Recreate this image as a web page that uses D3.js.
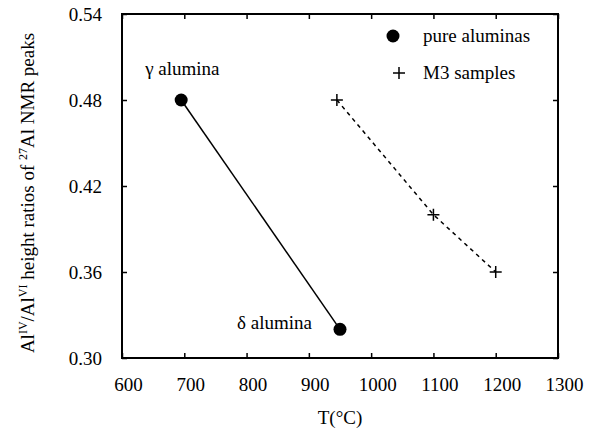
<!DOCTYPE html>
<html>
<head>
<meta charset="utf-8">
<script src="https://d3js.org/d3.v7.min.js"></script>
<style>
  body { margin: 0; background: #fff; }
</style>
</head>
<body>
<script>
var pureT = [695, 950];
var pureR = [0.48, 0.32];
var pureNames = ["\u03b3 alumina", "\u03b4 alumina"];
var m3T = [945, 1100, 1200];
var m3R = [0.48, 0.40, 0.36];
var xTicks = [600, 700, 800, 900, 1000, 1100, 1200, 1300];
var yTicks = [0.30, 0.36, 0.42, 0.48, 0.54];

var width = 590, height = 428;
var mLeft = 122, mRight = 558, mTop = 14, mBottom = 358;
var serif = "serif";
var fs = "19px";

var svg = d3.select("body").append("svg")
    .attr("width", width)
    .attr("height", height)
    .style("font-family", serif);

var x = d3.scaleLinear().domain([600, 1300]).range([mLeft, mRight]);
var y = d3.scaleLinear().domain([0.30, 0.54]).range([mBottom, mTop]);

// axes with inward ticks on all sides
var gx = svg.append("g").attr("transform", "translate(0," + mBottom + ")")
    .call(d3.axisBottom(x).tickValues(xTicks).tickFormat(d3.format("d")).tickSizeInner(-5).tickSizeOuter(0).tickPadding(20));
var gy = svg.append("g").attr("transform", "translate(" + mLeft + ",0)")
    .call(d3.axisLeft(y).tickValues(yTicks).tickFormat(d3.format(".2f")).tickSizeInner(-5).tickSizeOuter(0).tickPadding(20));
var gt = svg.append("g").attr("transform", "translate(0," + mTop + ")")
    .call(d3.axisTop(x).tickValues(xTicks).tickSizeInner(-5).tickSizeOuter(0).tickFormat(""));
var gr = svg.append("g").attr("transform", "translate(" + mRight + ",0)")
    .call(d3.axisRight(y).tickValues(yTicks).tickSizeInner(-5).tickSizeOuter(0).tickFormat(""));

[gx, gy, gt, gr].forEach(function(g) {
  g.attr("font-family", null).attr("font-size", null);
  g.select(".domain").remove();
  g.selectAll(".tick line").attr("stroke", "#000").attr("stroke-width", 1.5);
  g.selectAll(".tick text").style("font-family", serif).style("font-size", fs).attr("fill", "#000");
});
gx.selectAll(".tick text").attr("dx", 6);

svg.append("rect")
    .attr("x", mLeft).attr("y", mTop)
    .attr("width", mRight - mLeft).attr("height", mBottom - mTop)
    .attr("fill", "none").attr("stroke", "#000").attr("stroke-width", 2);

var line = d3.line().x(function(d) { return x(d[0]); }).y(function(d) { return y(d[1]); });

var pure = d3.zip(pureT, pureR);
var m3 = d3.zip(m3T, m3R);

svg.append("path").datum(pure).attr("d", line)
    .attr("fill", "none").attr("stroke", "#000").attr("stroke-width", 1.5);
svg.append("path").datum(m3).attr("d", line)
    .attr("fill", "none").attr("stroke", "#000").attr("stroke-width", 1.5)
    .attr("stroke-dasharray", "4,4");

svg.selectAll(".dot").data(pure).enter().append("circle")
    .attr("cx", function(d) { return x(d[0]); })
    .attr("cy", function(d) { return y(d[1]); })
    .attr("r", 6.5).attr("fill", "#000");

var plus = svg.selectAll(".plus").data(m3).enter().append("g")
    .attr("transform", function(d) { return "translate(" + x(d[0]) + "," + y(d[1]) + ")"; });
plus.append("path").attr("d", "M-6,0H6M0,-6V6").attr("stroke", "#000").attr("stroke-width", 1.5);

// point labels
svg.append("text").attr("x", x(pureT[0]) - 36).attr("y", y(pureR[0]) - 25)
    .style("font-size", fs).text(pureNames[0]);
svg.append("text").attr("x", x(pureT[1]) - 28).attr("y", y(pureR[1]))
    .attr("text-anchor", "end").style("font-size", fs).text(pureNames[1]);

// legend
svg.append("circle").attr("cx", 393).attr("cy", 36).attr("r", 6.5).attr("fill", "#000");
svg.append("text").attr("x", 423).attr("y", 42).style("font-size", fs).text("pure aluminas");
svg.append("path").attr("d", "M393,73H405M399,67V79").attr("stroke", "#000").attr("stroke-width", 1.5);
svg.append("text").attr("x", 423).attr("y", 79).style("font-size", fs).text("M3 samples");

// axis titles
svg.append("text").attr("x", (mLeft + mRight) / 2).attr("y", 424)
    .attr("text-anchor", "middle").style("font-size", fs).text("T(\u00b0C)");

var yt = svg.append("text")
    .attr("transform", "translate(34," + 193 + ") rotate(-90)")
    .attr("text-anchor", "middle").style("font-size", fs);
yt.append("tspan").text("Al");
yt.append("tspan").attr("baseline-shift", "super").style("font-size", "12px").text("IV");
yt.append("tspan").text("/Al");
yt.append("tspan").attr("baseline-shift", "super").style("font-size", "12px").text("VI");
yt.append("tspan").text(" height ratios of ");
yt.append("tspan").attr("baseline-shift", "super").style("font-size", "12px").text("27");
yt.append("tspan").text("Al NMR peaks");
</script>
</body>
</html>
